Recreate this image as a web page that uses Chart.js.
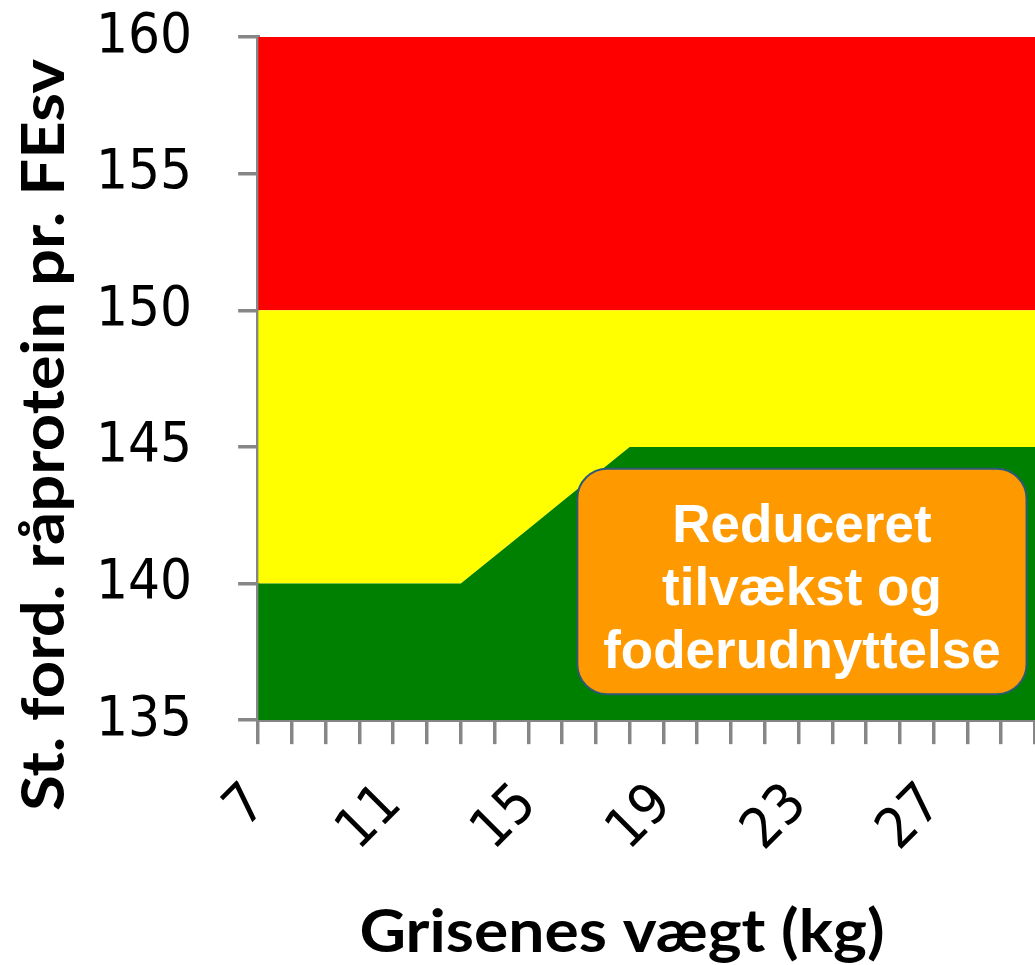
<!DOCTYPE html>
<html>
<head>
<meta charset="utf-8">
<script src="https://cdn.jsdelivr.net/npm/chart.js@4.4.1/dist/chart.umd.min.js"></script>
<style>
  html, body { margin: 0; padding: 0; background: #fff; overflow: hidden; }
</style>
</head>
<body>
<canvas id="chart" width="1035" height="965"></canvas>
<script>
// weights in kg (category axis)
const weights = [7, 8, 9, 10, 11, 12, 13, 14, 15, 16, 17, 18, 19, 20, 21, 22, 23, 24, 25, 26, 27, 28, 29, 30];
// upper limit of the green zone
const greenLimit = [140, 140, 140, 140, 140, 140, 140, 141, 142, 143, 144, 145, 145, 145, 145, 145, 145, 145, 145, 145, 145, 145, 145, 145];
// upper limit of the yellow zone
const yellowLimit = [150, 150, 150, 150, 150, 150, 150, 150, 150, 150, 150, 150, 150, 150, 150, 150, 150, 150, 150, 150, 150, 150, 150, 150];
// upper limit of the red zone
const redLimit = [160, 160, 160, 160, 160, 160, 160, 160, 160, 160, 160, 160, 160, 160, 160, 160, 160, 160, 160, 160, 160, 160, 160, 160];
const yTicks = [135, 140, 145, 150, 155, 160];

// callout box, in data units (category index / y value)
const noteLines = ['Reduceret', 'tilvækst og', 'foderudnyttelse'];
const noteBox = { x1: 9.45, x2: 22.75, y1: 144.2, y2: 135.95 };

const xTitle = 'Grisenes vægt (kg)';
const yTitle = 'St. ford. råprotein pr. FEsv';

const axisGrey = '#868686';
const titleFont = 'bold 59px Lato, "Open Sans", sans-serif';

// draws the text squeezed/stretched to a given length
function fitText(ctx, text, len) {
  const w = ctx.measureText(text).width;
  ctx.scale(len / w, 1);
  ctx.fillText(text, 0, 0);
}

const axisTitlePlugin = {
  id: 'axisTitles',
  afterDraw(chart) {
    const { ctx } = chart;
    ctx.save();
    ctx.fillStyle = '#000';
    ctx.font = titleFont;
    ctx.textAlign = 'center';
    ctx.textBaseline = 'alphabetic';
    ctx.save();
    ctx.translate(622, 952);
    fitText(ctx, xTitle, 525);
    ctx.restore();
    ctx.save();
    ctx.translate(64, 435);
    ctx.rotate(-Math.PI / 2);
    fitText(ctx, yTitle, 752);
    ctx.restore();
    ctx.restore();
  }
};

const noteBoxPlugin = {
  id: 'noteBox',
  afterDatasetsDraw(chart) {
    const { ctx, scales } = chart;
    const left = scales.x.getPixelForValue(noteBox.x1);
    const right = scales.x.getPixelForValue(noteBox.x2);
    const top = scales.y.getPixelForValue(noteBox.y1);
    const bottom = scales.y.getPixelForValue(noteBox.y2);
    ctx.save();
    ctx.beginPath();
    ctx.roundRect(left, top, right - left, bottom - top, 30);
    ctx.fillStyle = '#ff9900';
    ctx.fill();
    ctx.lineWidth = 2;
    ctx.strokeStyle = '#2a5a78';
    ctx.stroke();
    ctx.fillStyle = '#ffffff';
    ctx.font = 'bold 53px "Liberation Sans", Arial, sans-serif';
    ctx.textAlign = 'center';
    ctx.textBaseline = 'alphabetic';
    const cx = (left + right) / 2;
    noteLines.forEach((line, i) => {
      ctx.fillText(line, cx, top + 73 + i * 63);
    });
    ctx.restore();
  }
};

const chartCanvas = document.getElementById('chart');

const chart = new Chart(chartCanvas, {
  type: 'line',
  data: {
    labels: weights,
    datasets: [
      {
        label: 'Grøn',
        data: greenLimit,
        backgroundColor: '#008000',
        borderWidth: 0,
        pointRadius: 0,
        fill: 'origin'
      },
      {
        label: 'Gul',
        data: yellowLimit,
        backgroundColor: '#ffff00',
        borderWidth: 0,
        pointRadius: 0,
        fill: '-1'
      },
      {
        label: 'Rød',
        data: redLimit,
        backgroundColor: '#ff0000',
        borderWidth: 0,
        pointRadius: 0,
        fill: '-1'
      }
    ]
  },
  options: {
    responsive: false,
    animation: false,
    layout: { padding: { top: 37, right: -8, left: 50, bottom: 72 } },
    plugins: {
      legend: { display: false },
      tooltip: { enabled: false }
    },
    scales: {
      x: {
        offset: false,
        afterFit: (axis) => { axis.paddingLeft = 0; axis.paddingRight = 0; },
        grid: {
          drawOnChartArea: false,
          drawTicks: true,
          tickLength: 24,
          color: axisGrey,
          lineWidth: 3.5
        },
        border: { color: axisGrey, width: 4 },
        ticks: {
          autoSkip: false,
          minRotation: 45,
          maxRotation: 45,
          padding: 28,
          color: '#000',
          font: { family: '"DejaVu Sans Condensed", "DejaVu Sans", sans-serif', size: 56 },
          callback: (value, index) => (index % 4 === 0 ? String(weights[index]) : '')
        }
      },
      y: {
        min: 135,
        max: 160,
        afterBuildTicks: (axis) => { axis.ticks = yTicks.map(v => ({ value: v })); },
        afterFit: (axis) => { axis.paddingTop = 0; axis.paddingBottom = 0; },
        grid: {
          drawOnChartArea: false,
          drawTicks: true,
          tickLength: 20,
          color: axisGrey,
          lineWidth: 3.5
        },
        border: { color: axisGrey, width: 4 },
        ticks: {
          padding: 46,
          color: '#000',
          font: { family: '"DejaVu Sans Condensed", "DejaVu Sans", sans-serif', size: 56 }
        }
      }
    }
  },
  plugins: [noteBoxPlugin, axisTitlePlugin]
});
</script>
</body>
</html>
